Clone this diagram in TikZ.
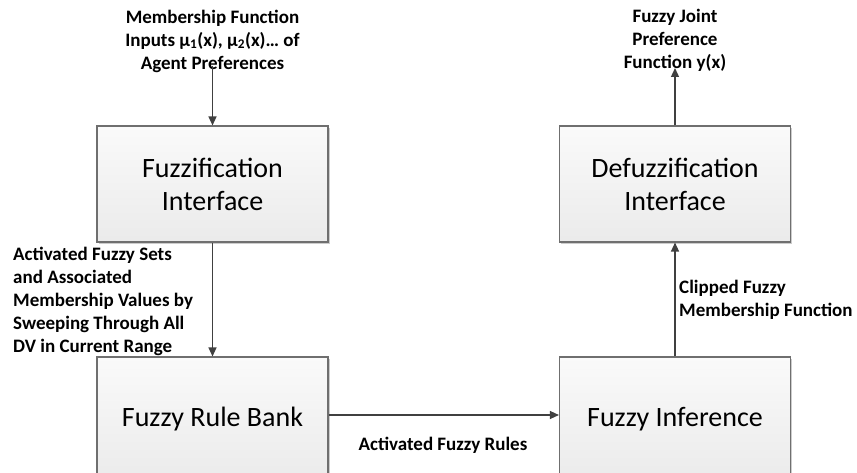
\documentclass[tikz,border=0pt]{standalone}
\usepackage{fontspec}
\setmainfont{Carlito}
\usetikzlibrary{arrows.meta,shadows}
\definecolor{linec}{HTML}{404040}
\definecolor{boxborder}{HTML}{6F6F6F}
\tikzset{
  blockbox/.style={draw=boxborder, line width=1.1pt, top color=white!98!black, bottom color=white!92!black,
    minimum width=231pt, minimum height=116pt, align=center, inner sep=0pt,
    font=\fontsize{28}{33}\selectfont,
    drop shadow={shadow xshift=1.6pt, shadow yshift=-1.6pt, opacity=0.2, fill=black}},
  lowbox/.style={blockbox, minimum height=124pt},
  lbl/.style={font=\fontsize{19}{23}\selectfont\bfseries, inner sep=0pt},
  conn/.style={draw=linec, line width=1.3pt, -{Triangle[length=9pt,width=8pt]}}
}
\begin{document}
\begin{tikzpicture}[x=1pt,y=-1pt]
\useasboundingbox (0,0) rectangle (857,473);
\node[blockbox] (fuzz) at (212.5,184) {Fuzzification\\Interface};
\node[blockbox] (defuzz) at (675,184) {Defuzzification\\Interface};
\node[lowbox] (rules) at (212.5,419) {\raisebox{4pt}{Fuzzy Rule Bank}};
\node[lowbox] (infer) at (675,419) {\raisebox{4pt}{Fuzzy Inference}};

\node[lbl, align=center] (inp) at (212.5,41) {Membership Function\\Inputs µ\textsubscript{1}(x), µ\textsubscript{2}(x)… of\\Agent Preferences};
\node[lbl, align=center] (outp) at (675,40) {Fuzzy Joint\\Preference\\Function y(x)};
\node[lbl, align=left, anchor=west] (sets) at (13,301) {Activated Fuzzy Sets\\and Associated\\Membership Values by\\Sweeping Through All\\DV in Current Range};
\node[lbl, align=left, anchor=west] (clip) at (679,300) {Clipped Fuzzy\\Membership Function};
\node[lbl] (act) at (443,445) {Activated Fuzzy Rules};

\coordinate (inend) at (212.5,66);
\coordinate (outend) at (675,68);
\draw[conn] (inend) -- (fuzz.north);
\draw[conn] (fuzz.south) -- (rules.north);
\draw[conn] ([yshift=4pt]rules.east) -- ([yshift=4pt]infer.west);
\draw[conn] (infer.north) -- (defuzz.south);
\draw[conn] (defuzz.north) -- (outend);
\end{tikzpicture}
\end{document}
